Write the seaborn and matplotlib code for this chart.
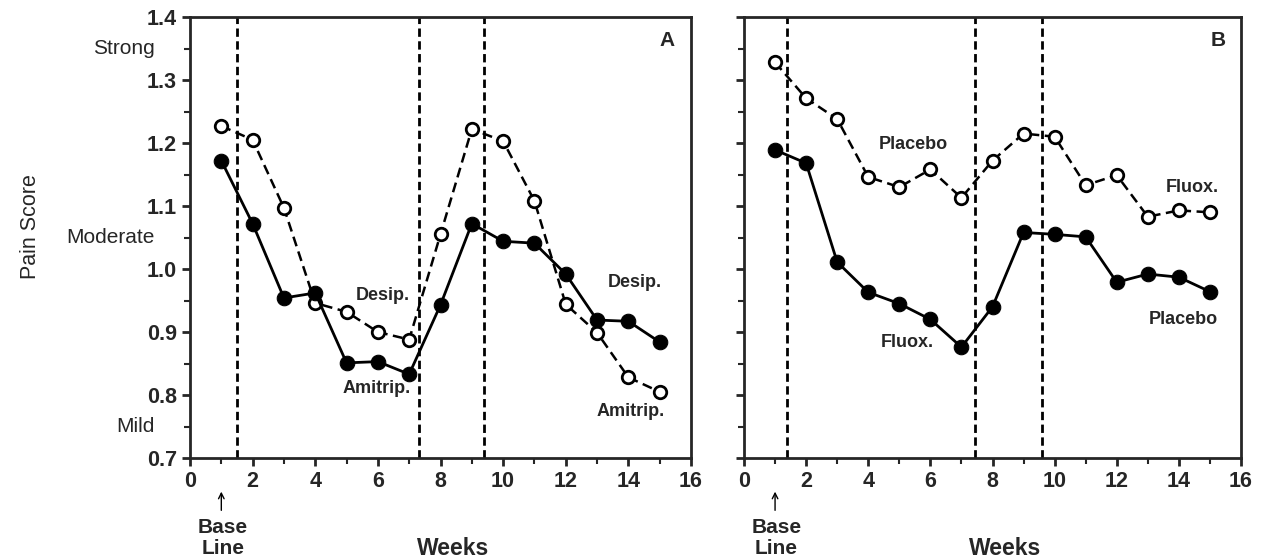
import matplotlib

matplotlib.use("Agg")
import matplotlib.pyplot as plt
import seaborn as sns

weeks = list(range(1, 16))

# panel A
amitrip = [1.172, 1.072, 0.954, 0.962, 0.851, 0.853, 0.833, 0.943,
           1.072, 1.044, 1.041, 0.992, 0.919, 0.917, 0.884]
desip = [1.227, 1.205, 1.097, 0.946, 0.932, 0.900, 0.888, 1.055,
         1.222, 1.203, 1.108, 0.944, 0.899, 0.828, 0.805]
phase_a = [1.5, 7.3, 9.4]

# panel B
fluox = [1.189, 1.168, 1.011, 0.963, 0.945, 0.920, 0.876, 0.940,
         1.058, 1.055, 1.051, 0.979, 0.992, 0.987, 0.964]
placebo = [1.328, 1.271, 1.238, 1.146, 1.130, 1.158, 1.113, 1.172,
           1.215, 1.210, 1.133, 1.149, 1.083, 1.093, 1.090]
phase_b = [1.4, 7.45, 9.6]

y_ticks = [0.7, 0.8, 0.9, 1.0, 1.1, 1.2, 1.3, 1.4]
x_ticks = list(range(0, 17, 2))
severity = ["Strong", "Moderate", "Mild"]
severity_at = [1.35, 1.05, 0.75]

sns.set_style("ticks")
plt.rcParams["font.family"] = ["Liberation Sans", "DejaVu Sans"]

fig = plt.figure(figsize=(12.69, 5.6), dpi=100)
ax_a = fig.add_axes([190 / 1269, 1 - 458 / 560, 501 / 1269, 441 / 560])
ax_b = fig.add_axes([744 / 1269, 1 - 458 / 560, 497 / 1269, 441 / 560])


def draw_panel(ax, filled, hollow, phases, letter, labels):
    for xv in phases:
        ax.axvline(xv, color="black", lw=2, dashes=(3, 1.6), zorder=1)
    sns.lineplot(x=weeks, y=hollow, ax=ax, color="black", lw=1.8,
                 dashes=False, linestyle=(0, (4, 2.2)), marker="o", markersize=9,
                 markerfacecolor="white", markeredgecolor="black",
                 markeredgewidth=2, zorder=3)
    sns.lineplot(x=weeks, y=filled, ax=ax, color="black", lw=2,
                 marker="o", markersize=10.5, markerfacecolor="black",
                 markeredgecolor="black", zorder=4)
    ax.set_xlim(0, 16)
    ax.set_ylim(0.7, 1.4)
    ax.set_xticks(x_ticks)
    ax.set_xticks(range(0, 17), minor=True)
    ax.set_yticks(y_ticks)
    ax.set_yticks([0.7 + 0.05 * i for i in range(15)], minor=True)
    ax.tick_params(which="major", direction="out", length=6, width=2,
                   labelsize=15.5)
    ax.tick_params(which="minor", direction="out", length=4, width=1.5)
    for sp in ax.spines.values():
        sp.set_visible(True)
        sp.set_linewidth(2)
    for lab in ax.get_xticklabels() + ax.get_yticklabels():
        lab.set_fontweight("bold")
    ax.text(15.25, 1.362, letter, fontsize=15, fontweight="bold",
            ha="center", va="center")
    for txt, xv, yv in labels:
        ax.text(xv, yv, txt, fontsize=13, fontweight="bold",
                ha="center", va="center")
    ax.text(8.4, -0.205, "Weeks", transform=ax.get_xaxis_transform(),
            fontsize=16.5, fontweight="bold", ha="center", va="center")
    ax.annotate("", xy=(1, -0.07), xytext=(1, -0.125),
                xycoords=ax.get_xaxis_transform(),
                arrowprops=dict(arrowstyle="->", color="black", lw=1))
    ax.text(1.05, -0.135, "Base\nLine", transform=ax.get_xaxis_transform(),
            fontsize=15, fontweight="bold", ha="center", va="top",
            linespacing=1.15)


draw_panel(ax_a, amitrip, desip, phase_a, "A",
           [("Desip.", 6.17, 0.958), ("Amitrip.", 5.97, 0.810),
            ("Desip.", 14.2, 0.979), ("Amitrip.", 14.06, 0.774)])
draw_panel(ax_b, fluox, placebo, phase_b, "B",
           [("Placebo", 5.44, 1.198), ("Fluox.", 14.42, 1.130),
            ("Fluox.", 5.25, 0.884), ("Placebo", 14.13, 0.920)])

ax_a.set_xlabel("")
ax_b.set_xlabel("")
ax_a.set_ylabel("")
ax_b.set_ylabel("")
ax_b.set_yticklabels([])

for txt, yv in zip(severity, severity_at):
    ax_a.text(-0.07, yv, txt, transform=ax_a.get_yaxis_transform(),
              fontsize=15, ha="right", va="center")

fig.text(30 / 1269, 1 - 227 / 560, "Pain Score", rotation=90,
         fontsize=15.5, ha="center", va="center")

plt.savefig("out.png", dpi=100)
